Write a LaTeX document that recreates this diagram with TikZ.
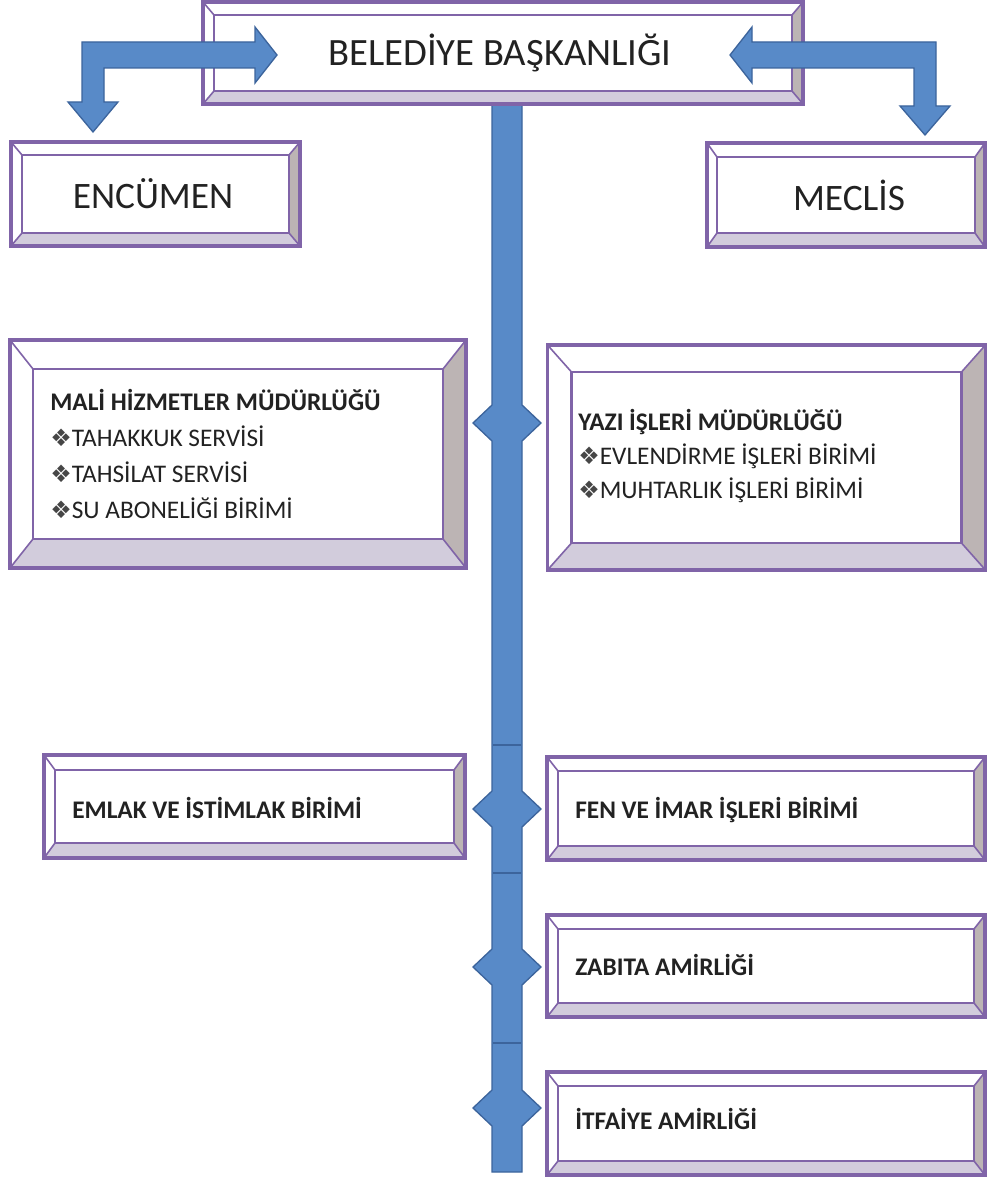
\documentclass[tikz,border=0pt]{standalone}
\usepackage{fontspec}
\setmainfont{Carlito}
\newfontfamily\symfont{DejaVu Sans}
\usetikzlibrary{calc}

\definecolor{boxline}{RGB}{128,100,168}
\definecolor{bevelbot}{RGB}{210,204,220}
\definecolor{bevelside}{RGB}{188,180,180}
\definecolor{spinefill}{RGB}{88,138,200}
\definecolor{spineline}{RGB}{60,100,156}
\definecolor{inktext}{RGB}{34,34,34}
\definecolor{bulink}{RGB}{70,70,70}

\newcommand{\bul}{{\symfont\fontsize{18}{18}\selectfont\color{bulink}❖}}

\begin{document}
\begin{tikzpicture}[x=0.75pt,y=-0.75pt,
        bevelbox/.style 2 args={draw=boxline,line width=2.6pt,fill=white,inner sep=0pt,
            path picture={
                \coordinate (p1) at (path picture bounding box.south west);
                \coordinate (p2) at (path picture bounding box.south east);
                \coordinate (p3) at (path picture bounding box.north east);
                \coordinate (p4) at (path picture bounding box.north west);
                \coordinate (q1) at ([xshift=#1,yshift=#2]p1);
                \coordinate (q2) at ([xshift=-#1,yshift=#2]p2);
                \coordinate (q3) at ([xshift=-#1,yshift=-#2]p3);
                \coordinate (q4) at ([xshift=#1,yshift=-#2]p4);
                \fill[bevelbot] (p1) -- (p2) -- (q2) -- (q1) -- cycle;
                \fill[bevelside] (p2) -- (p3) -- (q3) -- (q2) -- cycle;
                \draw[boxline,line width=1.2pt] (p1) -- (q1) (p2) -- (q2) (p3) -- (q3) (p4) -- (q4);
                \draw[boxline,line width=2pt] (q1) rectangle (q3);
            }},
        bigtext/.style={font=\fontsize{29}{32}\selectfont,text=inktext,anchor=base,inner sep=0pt},
        unittext/.style={font=\bfseries\fontsize{19}{25}\selectfont,text=inktext,anchor=base west,inner sep=0pt},
        listtext/.style={text=inktext,anchor=base west,align=left,inner sep=0pt},
        spine/.style={fill=spinefill,draw=spineline,line width=1pt,line join=miter}]

    \useasboundingbox (0,0) rectangle (986,1177);

    % vertical line with the side tips
    \draw[spine] (492,100) foreach \c in {423,809,967,1108} {-- (492,\c-18) -- (473,\c) -- (492,\c+18)}
        -- (492,1172) -- (522,1172)
        foreach \c in {1108,967,809,423} {-- (522,\c+18) -- (541,\c) -- (522,\c-18)} -- (522,100) -- cycle;
    \foreach \y in {745,873,1043}
        \draw[spineline,line width=0.8pt] (493,\y) -- (521,\y);

    % boxes
    \node[bevelbox={8.25pt}{9.75pt},minimum width=450pt,minimum height=76.5pt] (baskan) at (503,53) {};
    \node[bevelbox={8.25pt}{9.75pt},minimum width=216.75pt,minimum height=78pt] (encumen) at (155.5,194) {};
    \node[bevelbox={7.5pt}{10.5pt},minimum width=208.5pt,minimum height=78pt] (meclis) at (846,195) {};
    \node[bevelbox={17.25pt}{21.75pt},minimum width=342pt,minimum height=171pt] (mali) at (238,454) {};
    \node[bevelbox={18pt}{20.25pt},minimum width=328.5pt,minimum height=168.75pt] (yazi) at (766.5,457.5) {};
    \node[bevelbox={8.25pt}{11.25pt},minimum width=315.75pt,minimum height=77.25pt] (emlak) at (254.5,806.5) {};
    \node[bevelbox={8.25pt}{10.5pt},minimum width=328.5pt,minimum height=77.25pt] (fen) at (766,808.5) {};
    \node[bevelbox={8.25pt}{10.5pt},minimum width=328.5pt,minimum height=76.5pt] (zabita) at (766,966) {};
    \node[bevelbox={8.25pt}{10.5pt},minimum width=328.5pt,minimum height=77.25pt] (itfaiye) at (766,1123.5) {};

    % bent double arrows
    \coordinate (lh) at (277,55);
    \coordinate (lv) at (93,132);
    \coordinate (rh) at (730,55);
    \coordinate (rv) at (925,135);
    \draw[spine] (lh) -- ++(-22,-28) -- ++(0,15) -- ($(lv)+(-11,-90)$) -- ($(lv)+(-11,-30)$) -- ++(-14,0)
        -- (lv) -- ($(lv)+(25,-30)$) -- ++(-14,0) -- ($(lv)+(11,-64)$) -- ($(lh)+(-22,13)$) -- ++(0,15) -- cycle;
    \draw[spine] (rh) -- ++(22,-28) -- ++(0,15) -- ($(rv)+(11,-93)$) -- ($(rv)+(11,-29)$) -- ++(14,0)
        -- (rv) -- ($(rv)+(-25,-29)$) -- ++(14,0) -- ($(rv)+(-11,-67)$) -- ($(rh)+(22,13)$) -- ++(0,15) -- cycle;

    % texts (base = last line)
    \node[bigtext] (baskan-t) at (500,66) {BELEDİYE BAŞKANLIĞI};
    \node[bigtext,font=\fontsize{28}{32}\selectfont] (encumen-t) at (153,208) {ENCÜMEN};
    \node[bigtext,font=\fontsize{28}{32}\selectfont] (meclis-t) at (849,210) {MECLİS};
    \node[listtext,font=\fontsize{19}{27}\selectfont] (mali-t) at (50,518)
        {\textbf{MALİ HİZMETLER MÜDÜRLÜĞÜ}\\\bul TAHAKKUK SERVİSİ\\\bul TAHSİLAT SERVİSİ\\\bul SU ABONELİĞİ BİRİMİ};
    \node[listtext,font=\fontsize{19}{25.5}\selectfont] (yazi-t) at (578,498)
        {\textbf{YAZI İŞLERİ MÜDÜRLÜĞÜ}\\\bul EVLENDİRME İŞLERİ BİRİMİ\\\bul MUHTARLIK İŞLERİ BİRİMİ};
    \node[unittext] (emlak-t) at (72,818) {EMLAK VE İSTİMLAK BİRİMİ};
    \node[unittext] (fen-t) at (575,818) {FEN VE İMAR İŞLERİ BİRİMİ};
    \node[unittext] (zabita-t) at (575,975) {ZABITA AMİRLİĞİ};
    \node[unittext] (itfaiye-t) at (575,1129) {İTFAİYE AMİRLİĞİ};

\end{tikzpicture}
\end{document}
